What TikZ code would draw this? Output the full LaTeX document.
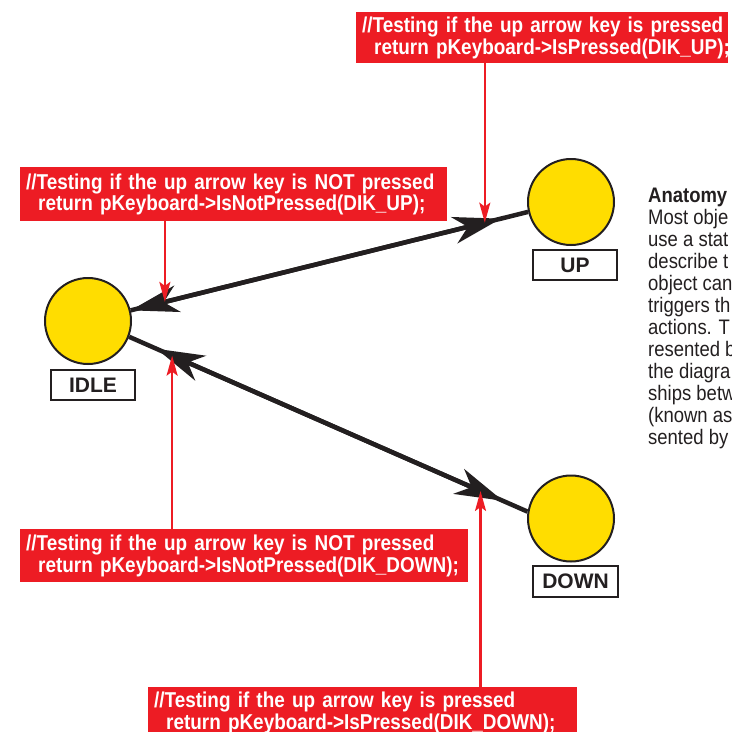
\documentclass[tikz,border=0pt]{standalone}
\usepackage{fontspec}
\setmainfont{Liberation Sans}
\newfontfamily\condfont[FakeStretch=0.88]{Liberation Sans}
\usetikzlibrary{arrows.meta}
\definecolor{cred}{RGB}{237,28,36}
\definecolor{cyel}{RGB}{255,221,0}
\definecolor{cblk}{RGB}{35,31,32}
\tikzset{
  state/.style={circle, fill=cyel, draw=cblk, line width=2pt, minimum size=86pt, inner sep=0pt},
  lbl/.style={draw=cblk, line width=1.4pt, fill=white, minimum width=84pt, minimum height=30pt, inner sep=0pt, text=cblk, font=\bfseries\fontsize{21}{21}\selectfont},
  redbox/.style={fill=cred, text=white, font=\condfont\bfseries\fontsize{21.5}{21.5}\selectfont, inner xsep=6pt, inner ysep=0pt, anchor=north west, align=left},
  blk/.style={draw=cblk, line width=4.5pt},
  bigtip/.tip={Stealth[length=48pt, width=27pt, inset=14pt]},
  redarr/.style={draw=cred, line width=2.2pt, -{Stealth[length=20pt, width=11pt, inset=4pt]}},
}
\begin{document}
\begin{tikzpicture}[x=1pt,y=-1pt]
\useasboundingbox (0,0) rectangle (732,732);
\fill[white] (0,0) rectangle (732,732);
\begin{scope}
\clip (0,0) rectangle (732,732);
% states
\node[state] (IDLE) at (88,321) {};
\node[state] (UP) at (571,202) {};
\node[state] (DOWN) at (571,518.5) {};
\node[lbl] (lIDLE) at (93,385) {IDLE};
\node[lbl] (lUP) at (575,265) {UP};
\node[lbl, minimum width=85pt, minimum height=31pt] (lDOWN) at (575.5,581.5) {DOWN};
% transitions
\draw[blk] (IDLE.14) -- (UP.193);
\draw[blk, {bigtip}-{bigtip}, shorten >=28pt] (IDLE.14) -- (UP.193);
\draw[blk] (IDLE.-21) -- (DOWN.171);
\draw[blk, {bigtip}-{bigtip}, shorten <=30pt, shorten >=27pt] (IDLE.-21) -- (DOWN.171);
\path (IDLE.14) -- (UP.193) coordinate[pos=0.086] (p1) coordinate[pos=0.891] (p2);
\path (IDLE.-21) -- (DOWN.171) coordinate[pos=0.108] (p3) coordinate[pos=0.882] (p4);
% red boxes
\node[redbox, text width=360pt, minimum height=51pt] (tA) at (356,12)
  {\mbox{//Testing if the up arrow key is pressed}\\\hspace*{12pt}\mbox{return pKeyboard->IsPressed(DIK\_UP);}};
\node[redbox, text width=415pt, minimum height=54pt] (tB) at (20,167)
  {\mbox{//Testing if the up arrow key is NOT pressed}\\\hspace*{12pt}\mbox{return pKeyboard->IsNotPressed(DIK\_UP);}};
\node[redbox, text width=436pt, minimum height=53pt] (tC) at (20,529)
  {\mbox{//Testing if the up arrow key is NOT pressed}\\\hspace*{12pt}\mbox{return pKeyboard->IsNotPressed(DIK\_DOWN);}};
\node[redbox, text width=417pt, minimum height=51pt] (tD) at (148,687)
  {\mbox{//Testing if the up arrow key is pressed}\\\hspace*{12pt}\mbox{return pKeyboard->IsPressed(DIK\_DOWN);}};
% red arrows
\draw[redarr] (tA.south -| p2) -- (p2);
\draw[redarr] (tB.south -| p1) -- (p1);
\draw[redarr] (tC.north -| p3) -- (p3);
\draw[redarr] (tD.north -| p4) -- (p4);
% side text
\node[anchor=north west, inner sep=0pt, align=left, text=cblk, font=\condfont\fontsize{21}{22}\selectfont] (anat) at (648,188)
  {{\bfseries Anatomy}\\Most obje\\use a stat\\describe t\\object can\\triggers th\\actions. T\\resented b\\the diagra\\ships betw\\(known as\\sented by};
\end{scope}
\end{tikzpicture}
\end{document}
